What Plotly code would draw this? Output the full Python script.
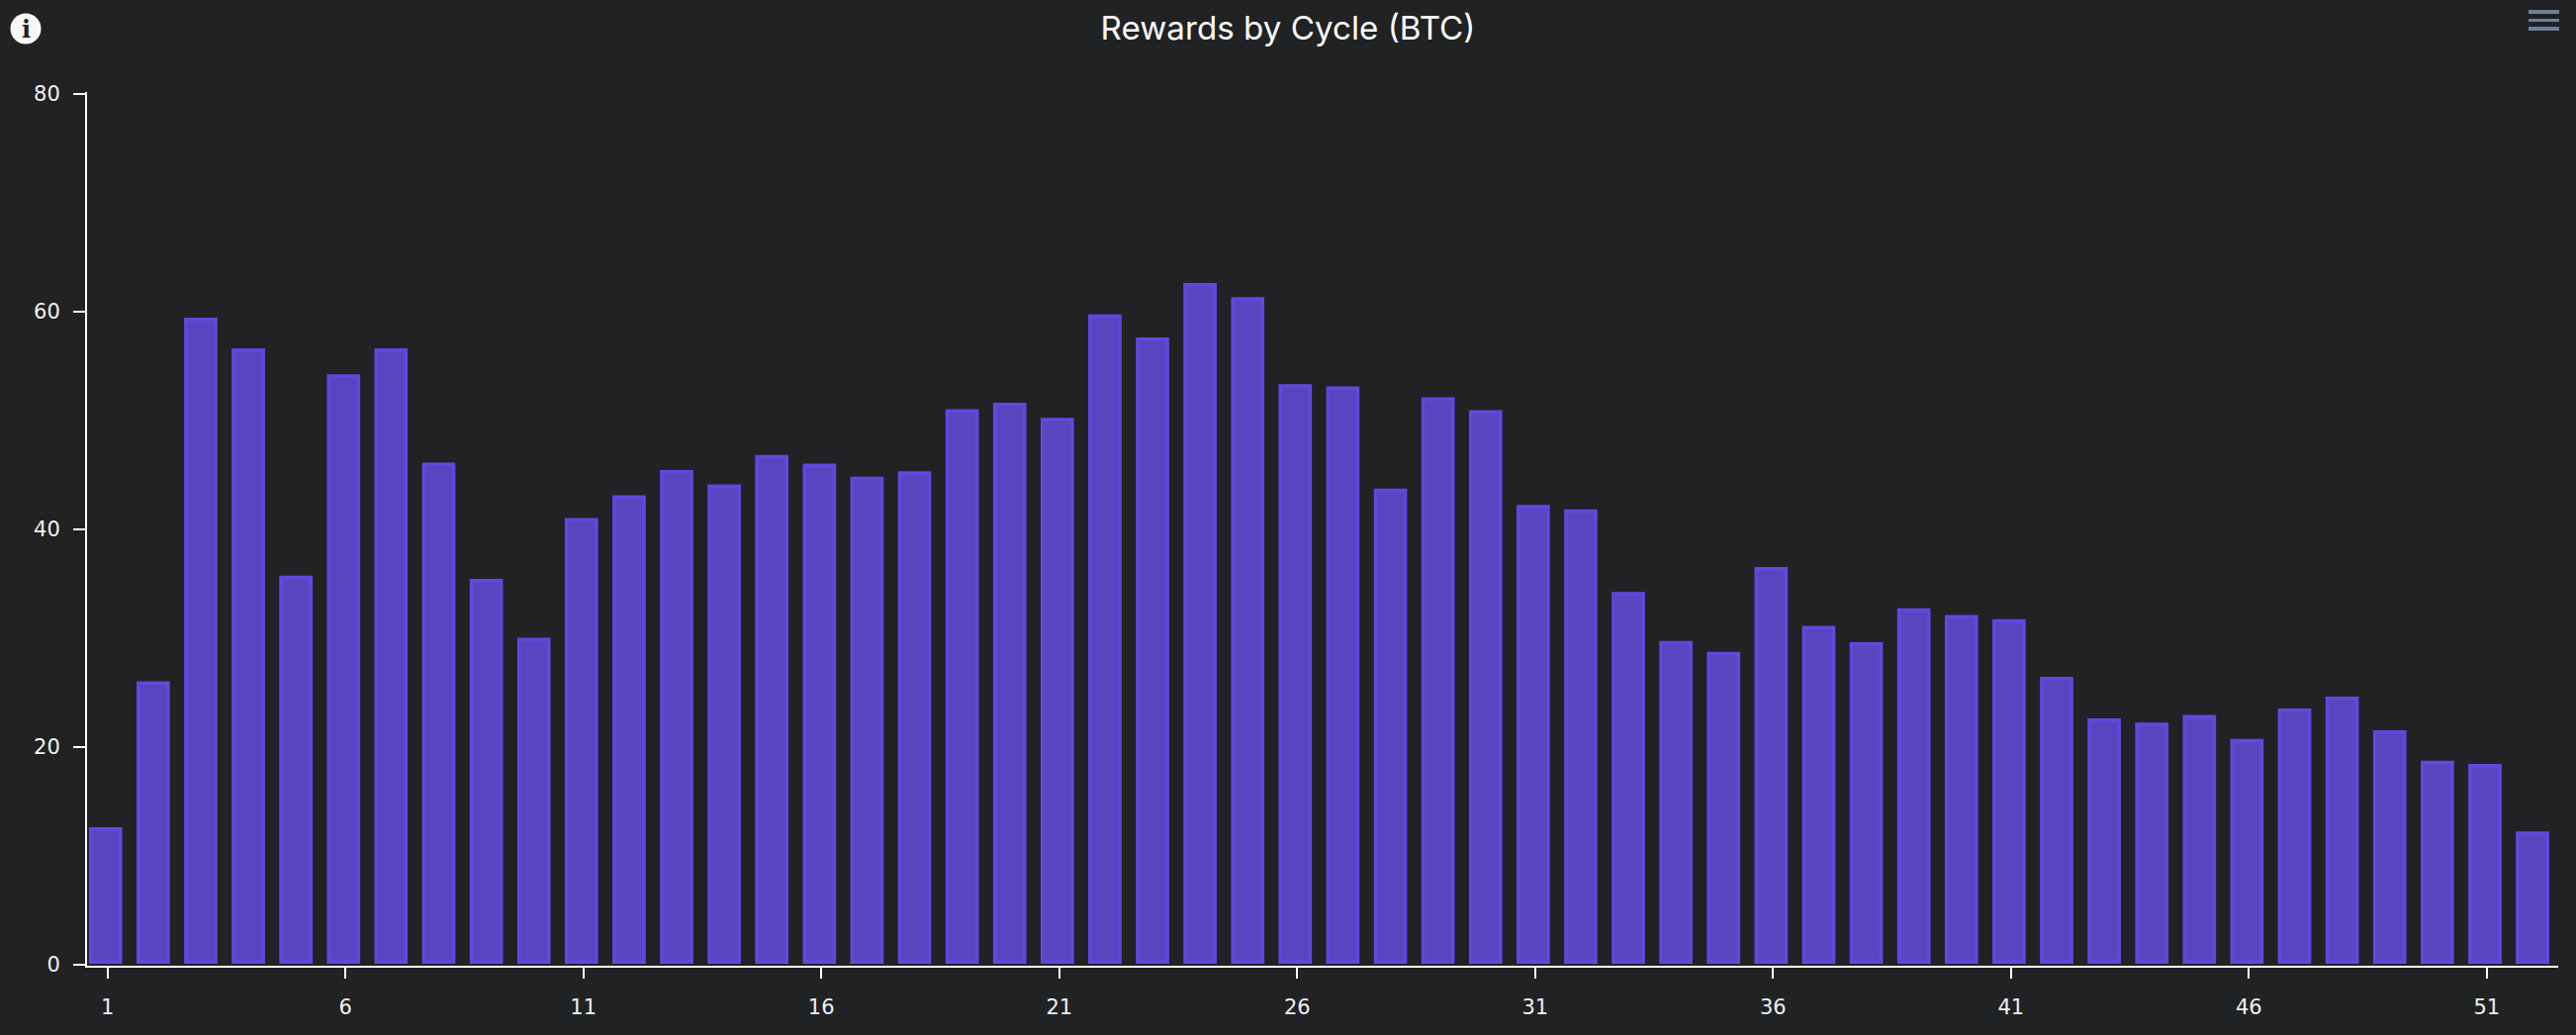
import plotly.graph_objects as go

cycles = list(range(1, 53))
rewards = [12.6, 26.0, 59.4, 56.6, 35.7, 54.2, 56.6, 46.1, 35.4, 30.0, 41.0, 43.1, 45.4, 44.1, 46.8, 46.0,
           44.8, 45.3, 51.0, 51.6, 50.2, 59.7, 57.6, 62.6, 61.3, 53.3, 53.1, 43.7, 52.1, 50.9, 42.2, 41.8,
           34.2, 29.7, 28.7, 36.5, 31.1, 29.6, 32.7, 32.1, 31.7, 26.4, 22.6, 22.2, 22.9, 20.7, 23.5, 24.6,
           21.5, 18.7, 18.4, 12.2]
x_ticks = list(range(1, 52, 5))
y_ticks = [0, 20, 40, 60, 80]
title = "Rewards by Cycle (BTC)"

BG = "#202224"
W, H = 2604, 1046
L, R, T, B = 88, 18, 93, 70

BASE = 0.2      # small lift so the stroke stays clear of the axis line
STROKE = 0.16   # half the stroke, in data units

fig = go.Figure(go.Bar(
    x=cycles, y=[v - BASE - STROKE for v in rewards], base=BASE,
    width=0.628, offset=-0.354,
    marker=dict(color="#5a45c0", line=dict(color="#5f49de", width=3.5)),
    hovertemplate="Cycle %{x}<extra></extra>",
))

def px(v): return (v - L) / (W - L - R)
def py(v): return 1 - (v - T) / (H - T - B)
shapes = []
for y0, y1 in [(10, 14), (19, 22), (27, 31)]:
    shapes.append(dict(type="rect", xref="paper", yref="paper", x0=px(2556), x1=px(2587),
                       y0=py(y0), y1=py(y1), fillcolor="#6e7f96", line=dict(width=0)))
shapes.append(dict(type="circle", xref="paper", yref="paper", x0=px(10.5), x1=px(41.5),
                   y0=py(13.5), y1=py(44.5), fillcolor="#f8f8f8", line=dict(width=0), layer="below"))

fig.update_layout(
    width=W, height=H, autosize=False,
    margin=dict(l=L, r=R, t=T, b=B, pad=0),
    paper_bgcolor=BG, plot_bgcolor=BG,
    showlegend=False,
    title=dict(text=title, x=0.5, xanchor="center", y=1 - 28/H, yanchor="middle",
               font=dict(family="Inter", size=33.2, color="#ffffff")),
    shapes=shapes,
    annotations=[dict(text="<b>i</b>", xref="paper", yref="paper", x=px(26), y=py(29),
                      xanchor="center", yanchor="middle", showarrow=False,
                      font=dict(family="DejaVu Serif", size=24, color="#202224"))],
    xaxis=dict(range=[0.57, 52.5], tickmode="array", tickvals=x_ticks, ticks="outside",
               ticklen=11, tickwidth=2, tickcolor="#ffffff", showgrid=False, zeroline=False,
               showline=True, linecolor="#ffffff", linewidth=2, ticklabelstandoff=11,
               tickfont=dict(family="DejaVu Sans", size=21, color="#f0f0f0")),
    yaxis=dict(range=[-0.136, 80.136], tickmode="array", tickvals=y_ticks, ticks="outside",
               ticklen=12, tickwidth=2, tickcolor="#ffffff", showgrid=False, zeroline=False,
               showline=True, linecolor="#ffffff", linewidth=2, ticklabelstandoff=9,
               tickfont=dict(family="DejaVu Sans", size=21, color="#f0f0f0")),
)
fig.write_html("out.html", config={"displayModeBar": False},
               post_script="document.body.style.margin='0';document.body.style.background='#202224';")
